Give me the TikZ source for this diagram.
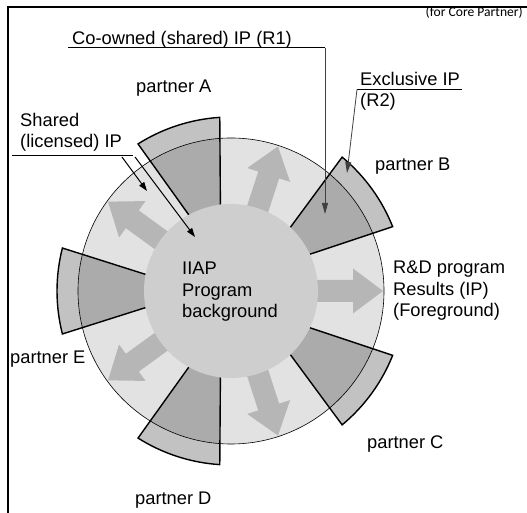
\documentclass[tikz,border=0pt]{standalone}
\usepackage{fontspec}
\setmainfont{Liberation Sans}
\newfontfamily\notefont{Carlito}
\usetikzlibrary{calc,arrows.meta}

\definecolor{diskgray}{HTML}{E2E2E2}
\definecolor{coregray}{HTML}{CECECE}
\definecolor{flowgray}{HTML}{B6B6B6}
\definecolor{leadergray}{HTML}{404040}

\begin{document}
\begin{tikzpicture}[x=1pt,y=1pt,
  lbl/.style={inner sep=0pt, anchor=base west, align=left,
              font=\fontsize{18.3}{21.5}\selectfont},
  notelbl/.style={inner sep=0pt, anchor=base east,
              font=\notefont\fontsize{13.6}{16}\selectfont},
  partnerwedge/.style={fill=black, fill opacity=0.24, draw=black,
              line width=1.4pt, line join=miter},
  flowarrow/.style={fill=flowgray},
  leader/.style={draw=leadergray, line width=0.8pt,
              -{Triangle[length=11pt,width=6pt]}},
  pointer/.style={draw=black, line width=1pt,
              -{Triangle[length=9pt,width=6pt]}}
]
\useasboundingbox (0,0) rectangle (527,513);
\fill[white] (0,0) rectangle (527,513);

% frame (top and left edges)
\draw[line width=1.6pt] (527,506) -- (8,506) -- (8,0);

% ring of program results with the partner wedges
\coordinate (O) at (231,222);
\begin{scope}[shift={(O)}]
  \fill[diskgray] (0,0) circle (153);
  \draw[line width=0.6pt] (0,0) circle (153);
  \foreach \c in {180,108,36,-36,-108}
    \filldraw[partnerwedge] (\c+11:87) -- (\c+14.3:174)
      arc[start angle=\c+14.3, end angle=\c-14.3, radius=174] -- (\c-11:87);
  \foreach \a in {72,0,-72,144,216}
    \fill[flowarrow, rotate=\a] (60,-11) -- (122,-11) -- (122,-22.5) -- (152,0)
      -- (122,22.5) -- (122,11) -- (60,11) -- cycle;
  \fill[coregray] (0,0) circle (87);
\end{scope}

% labels (multi-line labels are placed by the baseline of their last line)
\node[notelbl] (note) at (523,496) {(for Core Partner)};
\node[lbl] (coowned) at (72,468) {Co-owned (shared) IP (R1)};
\node[lbl] (exclusive) at (360,406) {Exclusive IP\\(R2)};
\node[lbl] (shared) at (20,365) {Shared\\(licensed) IP};
\node[lbl] (results) at (393,196) {R\&D program\\Results (IP)\\(Foreground)};
\node[lbl] (background) at (182,195) {IIAP\\Program\\background};
\node[lbl] (pA) at (136,420) {partner A};
\node[lbl] (pB) at (375,342.5) {partner B};
\node[lbl] (pC) at (367,64) {partner C};
\node[lbl] (pD) at (135,8) {partner D};
\node[lbl] (pE) at (10,149) {partner E};

% leader lines
\coordinate (coL) at (68,465.3);
\coordinate (coR) at (325,465.3);
\coordinate (coTip) at (325,299);
\draw[line width=0.8pt, draw=black] (coL) -- (coR);
\draw[leader] (coR) -- (coTip);

\coordinate (exL) at (357,423.5);
\coordinate (exR) at (462,423.5);
\coordinate (exTip) at (347,340);
\draw[line width=0.8pt, draw=black] (exL) -- (exR);
\draw[leader] (exL) -- (exTip);

\coordinate (shL) at (12,358);
\coordinate (shR) at (133,358);
\draw[line width=0.8pt, draw=black] (shL) -- (shR);
\coordinate (shA1) at (122,356);
\coordinate (shA2) at (147,322);
\coordinate (shB1) at (135,356);
\coordinate (shB2) at (195,276);
\draw[pointer] (shA1) -- (shA2);
\draw[pointer] (shB1) -- (shB2);
\end{tikzpicture}
\end{document}
